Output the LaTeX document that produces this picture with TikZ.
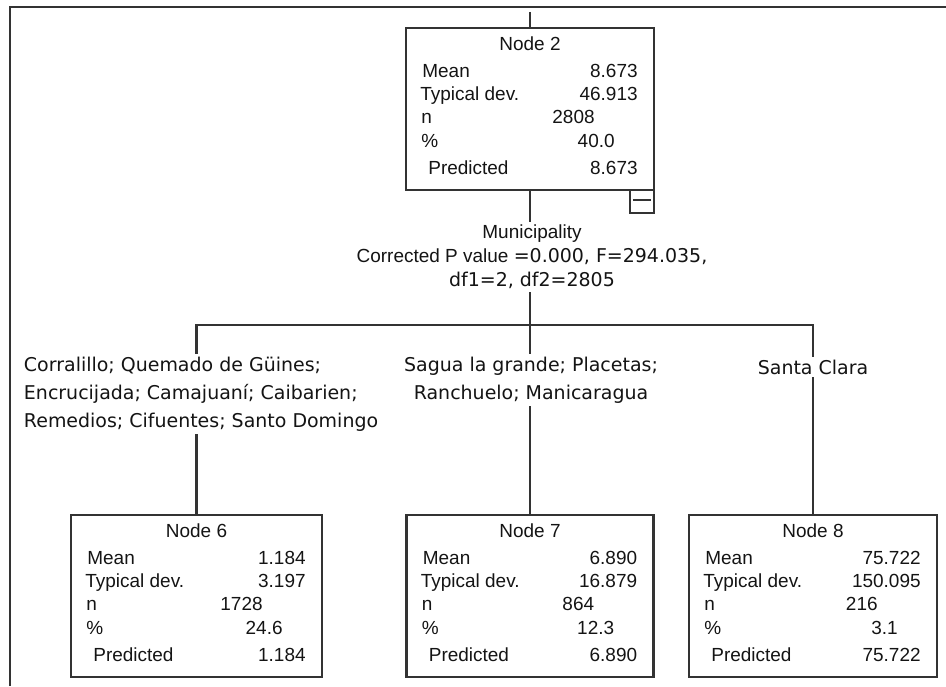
\documentclass[tikz,border=0pt]{standalone}
\usepackage{fontspec}
\setmainfont{Liberation Sans}
\newfontfamily\dvfont{DejaVu Sans}
\usetikzlibrary{calc,backgrounds}
\tikzset{
  statbox/.style={draw=black!80, line width=1.25pt, minimum height=3.24cm, inner sep=0pt, outer sep=0pt},
  rowlabel/.style={anchor=base west, inner sep=0pt},
  rowvalue/.style={anchor=base east, inner sep=0pt},
  branchlabel/.style={fill=white, inner sep=1.5pt, font=\dvfont\fontsize{10.8}{15.9}\selectfont},
  link/.style={draw=black!80, line width=1.25pt},
}
% #1 name, #2 centre, #3 width, #4 title, #5..#9 the five values
\newcommand\statnode[9]{%
  \node[statbox, minimum width=#3] (#1) at (#2) {};
  \node[anchor=base, inner sep=0pt] (#1-title) at ($(#1.north)+(0,22.5)$) {#4};
  \node[rowlabel] (#1-mean) at ($(#1.north west)+(16,49.5)$) {Mean};
  \node[rowlabel] (#1-dev) at ($(#1.north west)+(14,72.5)$) {Typical dev.};
  \node[rowlabel] (#1-n) at ($(#1.north west)+(15,95)$) {n};
  \node[rowlabel] (#1-pct) at ($(#1.north west)+(15,119)$) {\%};
  \node[rowlabel] (#1-pred) at ($(#1.north west)+(22,146)$) {Predicted};
  \node[rowvalue] (#1-meanv) at ($(#1.north east)+(-16,49.5)$) {#5};
  \node[rowvalue] (#1-devv) at ($(#1.north east)+(-16,72.5)$) {#6};
  \node[rowvalue] (#1-nv) at ($(#1.north east)+(-59,95)$) {#7};
  \node[rowvalue] (#1-pctv) at ($(#1.north east)+(-39,119)$) {#8};
  \node[rowvalue] (#1-predv) at ($(#1.north east)+(-16,146)$) {#9};
}

\begin{document}
\begin{tikzpicture}[x=0.02cm, y=-0.02cm, font=\fontsize{10.8}{13.6}\selectfont, text=black!92]
  \useasboundingbox (0,0) rectangle (946,686);

  %%%%% boxes %%%%%
  \statnode{n2}{530,109}{4.96cm}{Node 2}{8.673}{46.913}{2808}{40.0}{8.673}
  \node[statbox, minimum width=0.48cm, minimum height=0.46cm, anchor=north east] (n2-toggle) at (n2.south east) {};
  \draw[link] ($(n2-toggle.west)+(3,-1.5)$) -- ($(n2-toggle.east)+(-3,-1.5)$);

  \statnode{n6}{196.5,596}{5.02cm}{Node 6}{1.184}{3.197}{1728}{24.6}{1.184}
  \statnode{n7}{530,596}{4.94cm}{Node 7}{6.890}{16.879}{864}{12.3}{6.890}
  \statnode{n8}{813,596}{4.96cm}{Node 8}{75.722}{150.095}{216}{3.1}{75.722}

  %%%%% split and branch labels %%%%%
  \node[branchlabel, align=center, font=\fontsize{10.8}{13.6}\selectfont] (split) at (532,257)
    {Municipality\\Corrected P value {\dvfont =0.000, F=294.035,}\\{\dvfont df1=2, df2=2805}};
  \node[branchlabel, align=left, anchor=west] (b6) at (21,394)
    {Corralillo; Quemado de Güines;\\Encrucijada; Camajuaní; Caibarien;\\Remedios; Cifuentes; Santo Domingo};
  \node[branchlabel, align=center] (b7) at (531,380)
    {Sagua la grande; Placetas;\\Ranchuelo; Manicaragua};
  \node[branchlabel] (b8) at (813,367) {Santa Clara};

  \coordinate (root) at (530,12);
  \coordinate (bar) at (530,325);

  %%%%% connectors %%%%%
  \begin{scope}[on background layer]
    \draw[link] (10,686) -- (10,7) -- (946,7);
    \draw[link] (root) -- (n2.north);
    \draw[link] (n2.south) -- (bar);
    \draw[link] (n6.north) |- (bar) -| (n8.north);
    \draw[link] (bar) -- (n7.north);
  \end{scope}
\end{tikzpicture}
\end{document}
